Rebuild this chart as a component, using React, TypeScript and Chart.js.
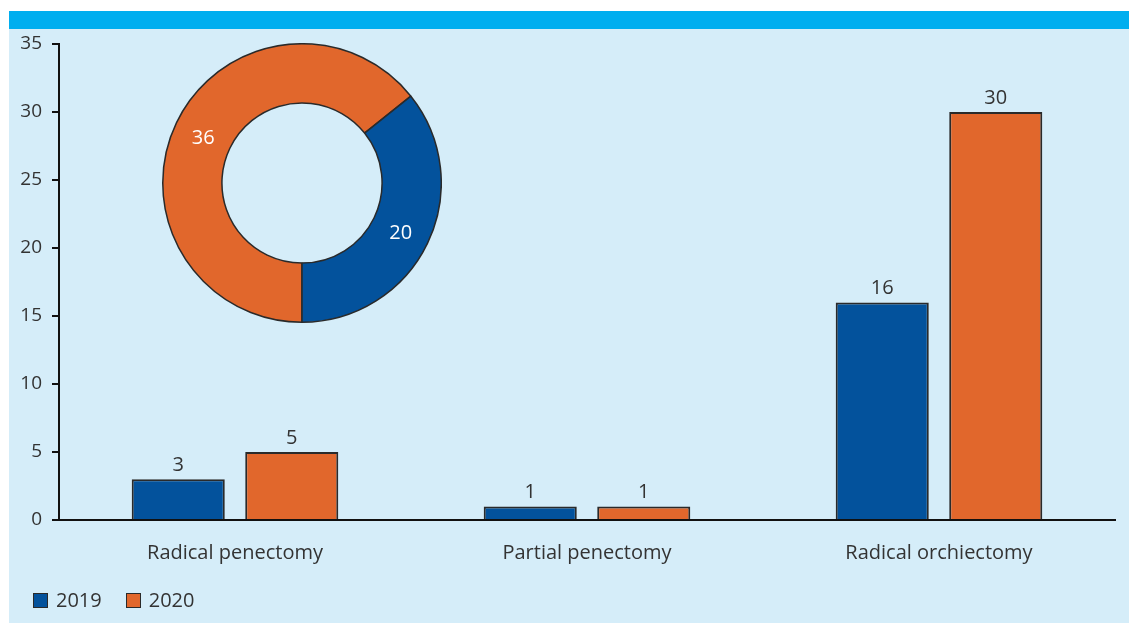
import React, { useEffect, useRef } from "react";
import { Chart, registerables } from "chart.js";

Chart.register(...registerables);

const categories = ["Radical penectomy", "Partial penectomy", "Radical orchiectomy"];
const seriesNames = ["2019", "2020"];
const values2019 = [3, 1, 16];
const values2020 = [5, 1, 30];
const donutLabels = ["2020", "2019"];
const donutValues = [36, 20];

const BLUE = "#03529c";
const ORANGE = "#e1672c";
const EDGE = "#2a2a2a";
const TEXT = "#333333";
const FONT = "'Open Sans', 'DejaVu Sans', sans-serif";

const barValueLabels = {
  id: "barValueLabels",
  afterDatasetsDraw(chart: any) {
    const ctx = chart.ctx;
    ctx.save();
    ctx.font = `20px ${FONT}`;
    ctx.fillStyle = TEXT;
    ctx.textAlign = "center";
    ctx.textBaseline = "alphabetic";
    chart.data.datasets.forEach((ds: any, i: number) => {
      const meta = chart.getDatasetMeta(i);
      meta.data.forEach((el: any, j: number) => {
        ctx.fillText(String(ds.data[j]), el.x, el.y - 8);
      });
    });
    ctx.restore();
  },
};

const donutValueLabels = {
  id: "donutValueLabels",
  afterDatasetsDraw(chart: any) {
    const ctx = chart.ctx;
    ctx.save();
    ctx.font = `20px ${FONT}`;
    ctx.fillStyle = "#ffffff";
    ctx.textAlign = "center";
    ctx.textBaseline = "middle";
    const ds = chart.data.datasets[0];
    const meta = chart.getDatasetMeta(0);
    meta.data.forEach((el: any, j: number) => {
      const p = el.getCenterPoint();
      ctx.fillText(String(ds.data[j]), p.x, p.y + 3);
    });
    ctx.restore();
  },
};

export default function App() {
  const barRef = useRef<HTMLCanvasElement>(null);
  const donutRef = useRef<HTMLCanvasElement>(null);

  useEffect(() => {
    const bar = new Chart(barRef.current!, {
      type: "bar",
      data: {
        labels: categories,
        datasets: [
          {
            label: seriesNames[0],
            data: values2019,
            backgroundColor: BLUE,
            borderColor: EDGE,
            borderWidth: 2,
            categoryPercentage: 0.645,
            barPercentage: 0.82,
          },
          {
            label: seriesNames[1],
            data: values2020,
            backgroundColor: ORANGE,
            borderColor: EDGE,
            borderWidth: 2,
            categoryPercentage: 0.645,
            barPercentage: 0.82,
          },
        ],
      },
      options: {
        animation: false,
        responsive: true,
        maintainAspectRatio: false,
        layout: { padding: { left: 0, top: 15, right: 14, bottom: 0 } },
        plugins: {
          legend: { display: false },
          tooltip: { enabled: false },
        },
        scales: {
          x: {
            grid: { display: false },
            border: { display: true, color: "#111", width: 2 },
            ticks: { color: TEXT, font: { family: FONT, size: 20 }, padding: 13 },
            afterFit(scale: any) {
              scale.height = 103;
            },
          },
          y: {
            min: 0,
            max: 35,
            ticks: { stepSize: 5, color: TEXT, font: { family: FONT, size: 19 }, padding: 10 },
            grid: { drawOnChartArea: false, drawTicks: true, tickLength: 7, color: "#111", lineWidth: 2 },
            border: { display: true, color: "#111", width: 2 },
            afterFit(scale: any) {
              scale.width = 50;
              scale.paddingTop = 0;
            },
          },
        },
      },
      plugins: [barValueLabels],
    });

    const donut = new Chart(donutRef.current!, {
      type: "doughnut",
      data: {
        labels: donutLabels,
        datasets: [
          {
            data: donutValues,
            backgroundColor: [ORANGE, BLUE],
            borderColor: EDGE,
            borderWidth: 1.5,
          },
        ],
      },
      options: {
        animation: false,
        responsive: true,
        maintainAspectRatio: false,
        rotation: 180,
        cutout: "57.5%",
        layout: { padding: 0 },
        plugins: {
          legend: { display: false },
          tooltip: { enabled: false },
        },
      },
      plugins: [donutValueLabels],
    });

    return () => {
      bar.destroy();
      donut.destroy();
    };
  }, []);

  const legendItem = (color: string, text: string) => (
    <div style={{ display: "flex", alignItems: "center", marginRight: 24 }}>
      <div
        style={{
          width: 13,
          height: 13,
          background: color,
          border: `1px solid ${EDGE}`,
          marginRight: 8,
        }}
      />
      <span style={{ fontFamily: FONT, fontSize: 20, color: TEXT, lineHeight: "20px" }}>{text}</span>
    </div>
  );

  return (
    <div style={{ position: "fixed", left: 9, top: 11, width: 1120, height: 612 }}>
      <div style={{ position: "absolute", left: 0, top: 0, width: 1120, height: 18, background: "#00aeef" }} />
      <div style={{ position: "absolute", left: 0, top: 18, width: 1120, height: 594, background: "#d5edf9" }}>
        <div style={{ position: "absolute", left: 0, top: 0, width: 1120, height: 594 }}>
          <canvas ref={barRef} />
        </div>
        <div style={{ position: "absolute", left: 153, top: 14, width: 280, height: 280 }}>
          <canvas ref={donutRef} />
        </div>
        <div style={{ position: "absolute", left: 24, top: 561, display: "flex" }}>
          {legendItem(BLUE, seriesNames[0])}
          {legendItem(ORANGE, seriesNames[1])}
        </div>
      </div>
    </div>
  );
}
